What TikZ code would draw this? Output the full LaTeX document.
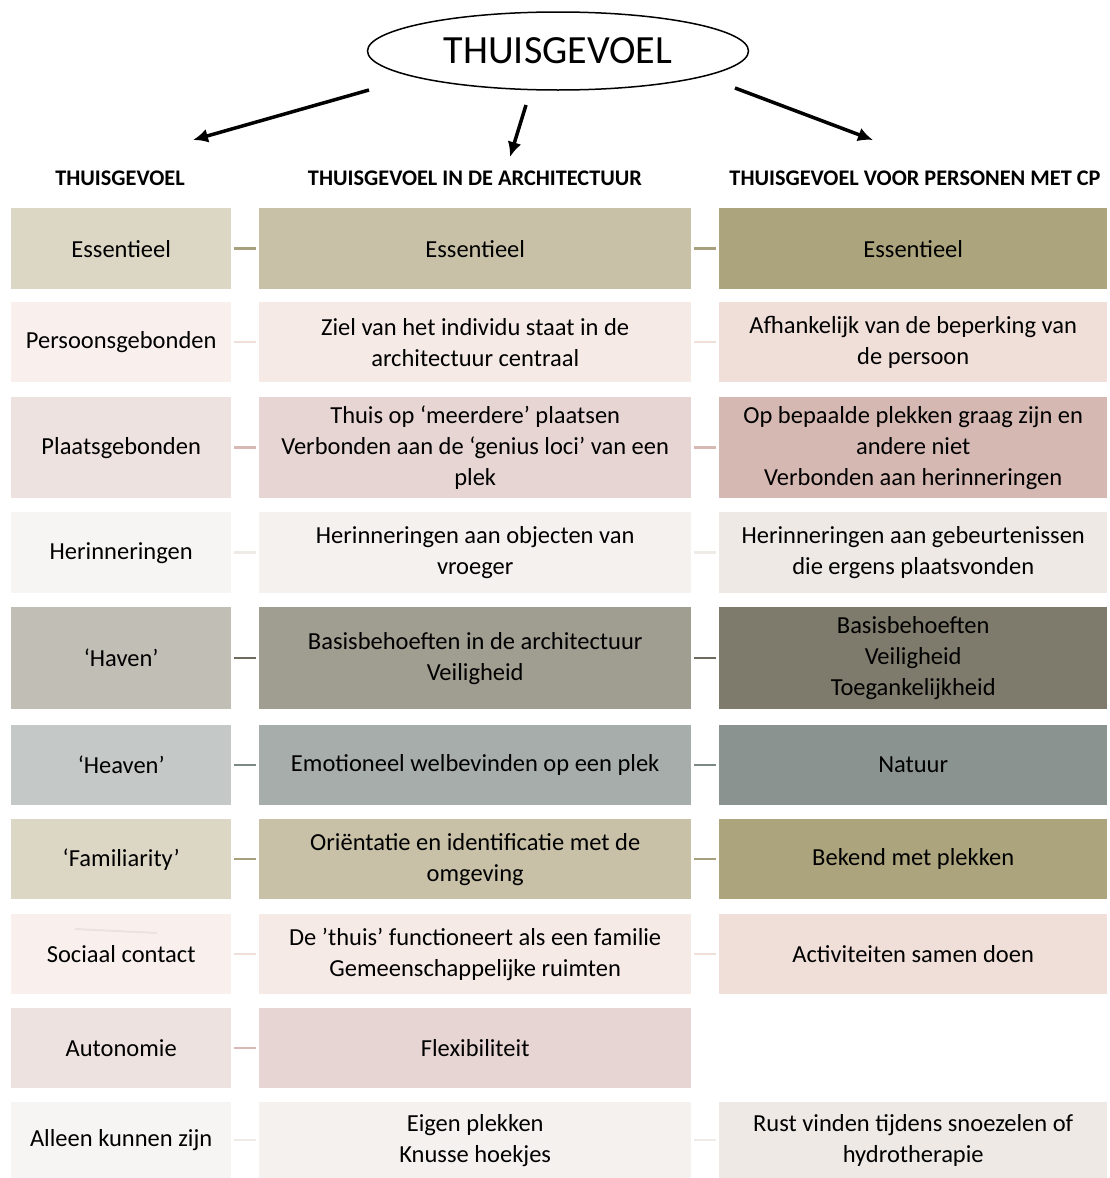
\documentclass[tikz,border=0pt]{standalone}
\usepackage{fontspec}
\setmainfont{Carlito}
\usetikzlibrary{shapes.geometric,arrows.meta}

% row colours: a = thuisgevoel, b = architectuur, c = personen met CP
\definecolor{r1a}{HTML}{DCD6C5}\definecolor{r1b}{HTML}{C8C1A8}\definecolor{r1c}{HTML}{ACA47C}
\definecolor{r2a}{HTML}{F9F0EE}\definecolor{r2b}{HTML}{F5EAE6}\definecolor{r2c}{HTML}{F0DFD8}
\definecolor{r3a}{HTML}{EEE2E0}\definecolor{r3b}{HTML}{E6D5D3}\definecolor{r3c}{HTML}{D6B8B3}
\definecolor{r4a}{HTML}{F6F5F3}\definecolor{r4b}{HTML}{F4F1EE}\definecolor{r4c}{HTML}{EEE9E5}
\definecolor{r5a}{HTML}{C1BEB6}\definecolor{r5b}{HTML}{A09D91}\definecolor{r5c}{HTML}{7E7B6C}
\definecolor{r6a}{HTML}{C4C9C8}\definecolor{r6b}{HTML}{A7ADAB}\definecolor{r6c}{HTML}{8A9390}
% connector colours
\definecolor{l1}{HTML}{A8A07C}\definecolor{l2}{HTML}{F0DFD8}\definecolor{l3}{HTML}{D8B8B3}
\definecolor{l4}{HTML}{EEEAE6}\definecolor{l5}{HTML}{6E6B5E}\definecolor{l6}{HTML}{7A8886}

\tikzset{
  cell/.style={anchor=north west, inner sep=0pt, align=center,
    font=\fontsize{24.5}{31}\selectfont},
  cola/.style={cell, minimum width=220pt},
  colb/.style={cell, minimum width=432pt},
  colc/.style={cell, minimum width=388pt},
  head/.style={font=\bfseries\fontsize{22.3}{26}\selectfont},
  link/.style={line width=2.5pt, shorten <=3pt, shorten >=3pt},
  bigarrow/.style={line width=3.5pt, -{Latex[length=15pt,width=14pt]}},
}

\begin{document}
\begin{tikzpicture}[x=1pt,y=-1pt]
\useasboundingbox (0,0) rectangle (1109,1178);

% title and arrows
\node[draw, ellipse, line width=1.5pt, minimum width=381pt, minimum height=78pt,
  font=\fontsize{40}{48}\selectfont] (top) at (558,51) {THUISGEVOEL};
\coordinate (s1) at (369,90);  \coordinate (e1) at (193,140);
\coordinate (s2) at (526,105); \coordinate (e2) at (510,157);
\coordinate (s3) at (735,88);  \coordinate (e3) at (873,140);
\draw[bigarrow] (s1) -- (e1);
\draw[bigarrow] (s2) -- (e2);
\draw[bigarrow] (s3) -- (e3);

% column headings
\node[head] (h1) at (120,178) {THUISGEVOEL};
\node[head] (h2) at (475,178) {THUISGEVOEL IN DE ARCHITECTUUR};
\node[head] (h3) at (915,178) {THUISGEVOEL VOOR PERSONEN MET CP};

% column 1
\node[cola, fill=r1a, minimum height=81pt]  (t1)  at (11,208)  {Essentieel};
\node[cola, fill=r2a, minimum height=80pt]  (t2)  at (11,302)  {Persoonsgebonden};
\node[cola, fill=r3a, minimum height=101pt] (t3)  at (11,397)  {Plaatsgebonden};
\node[cola, fill=r4a, minimum height=81pt]  (t4)  at (11,512)  {Herinneringen};
\node[cola, fill=r5a, minimum height=102pt] (t5)  at (11,607)  {‘Haven’};
\node[cola, fill=r6a, minimum height=80pt]  (t6)  at (11,725)  {‘Heaven’};
\node[cola, fill=r1a, minimum height=80pt]  (t7)  at (11,819)  {‘Familiarity’};
\node[cola, fill=r2a, minimum height=80pt]  (t8)  at (11,914)  {Sociaal contact};
\node[cola, fill=r3a, minimum height=80pt]  (t9)  at (11,1008) {Autonomie};
\node[cola, fill=r4a, minimum height=76pt]  (t10) at (11,1102) {Alleen kunnen zijn};
\draw[line width=2pt, r3a] (75,929) -- (157,933);

% column 2
\node[colb, fill=r1b, minimum height=81pt]  (a1)  at (259,208)  {Essentieel};
\node[colb, fill=r2b, minimum height=80pt]  (a2)  at (259,302)  {Ziel van het individu staat in de\\architectuur centraal};
\node[colb, fill=r3b, minimum height=101pt] (a3)  at (259,397)  {Thuis op ‘meerdere’ plaatsen\\Verbonden aan de ‘genius loci’ van een\\plek};
\node[colb, fill=r4b, minimum height=81pt]  (a4)  at (259,512)  {Herinneringen aan objecten van\\vroeger};
\node[colb, fill=r5b, minimum height=102pt] (a5)  at (259,607)  {Basisbehoeften in de architectuur\\Veiligheid};
\node[colb, fill=r6b, minimum height=80pt]  (a6)  at (259,725)  {Emotioneel welbevinden op een plek};
\node[colb, fill=r1b, minimum height=80pt]  (a7)  at (259,819)  {Oriëntatie en identificatie met de\\omgeving};
\node[colb, fill=r2b, minimum height=80pt]  (a8)  at (259,914)  {De ’thuis’ functioneert als een familie\\Gemeenschappelijke ruimten};
\node[colb, fill=r3b, minimum height=80pt]  (a9)  at (259,1008) {Flexibiliteit};
\node[colb, fill=r4b, minimum height=76pt]  (a10) at (259,1102) {Eigen plekken\\Knusse hoekjes};

% column 3
\node[colc, fill=r1c, minimum height=81pt]  (p1)  at (719,208)  {Essentieel};
\node[colc, fill=r2c, minimum height=80pt]  (p2)  at (719,302)  {Afhankelijk van de beperking van\\de persoon};
\node[colc, fill=r3c, minimum height=101pt] (p3)  at (719,397)  {Op bepaalde plekken graag zijn en\\andere niet\\Verbonden aan herinneringen};
\node[colc, fill=r4c, minimum height=81pt]  (p4)  at (719,512)  {Herinneringen aan gebeurtenissen\\die ergens plaatsvonden};
\node[colc, fill=r5c, minimum height=102pt] (p5)  at (719,607)  {Basisbehoeften\\Veiligheid\\Toegankelijkheid};
\node[colc, fill=r6c, minimum height=80pt]  (p6)  at (719,725)  {Natuur};
\node[colc, fill=r1c, minimum height=80pt]  (p7)  at (719,819)  {Bekend met plekken};
\node[colc, fill=r2c, minimum height=80pt]  (p8)  at (719,914)  {Activiteiten samen doen};
\node[colc, fill=r4c, minimum height=76pt]  (p10) at (719,1102) {Rust vinden tijdens snoezelen of\\hydrotherapie};

% connectors
\foreach \i/\c in {1/l1,2/l2,3/l3,4/l4,5/l5,6/l6,7/l1,8/l2,9/l3,10/l4}
  \draw[link, \c] (t\i.east) -- (a\i.west);
\foreach \i/\c in {1/l1,2/l2,3/l3,4/l4,5/l5,6/l6,7/l1,8/l2,10/l4}
  \draw[link, \c] (a\i.east) -- (p\i.west);
\end{tikzpicture}
\end{document}
